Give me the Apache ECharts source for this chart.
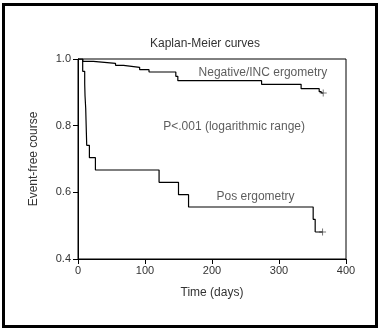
<!DOCTYPE html>
<html>
<head>
<meta charset="utf-8">
<script src="https://cdn.jsdelivr.net/npm/echarts@6/dist/echarts.min.js"></script>
<style>
    html, body { margin: 0; padding: 0; background: #fff; }
    #chart { width: 382px; height: 332px; }
</style>
</head>
<body>
<div id="chart"></div>
<script>
// Kaplan-Meier curves
const negTimes = [0, 7, 23, 56, 68, 92, 106, 146, 149, 274, 333, 360, 363];
const negSurv  = [1.0, 0.993, 0.987, 0.981, 0.975, 0.968, 0.961, 0.948, 0.935, 0.924, 0.911, 0.902, 0.898];
const negCensor = [[366, 0.898]];

const posTimes = [0, 7, 10, 10.5, 11.5, 12, 12.5, 13, 17, 26, 121, 150, 165, 351, 354];
const posSurv  = [1.0, 0.963, 0.926, 0.889, 0.852, 0.815, 0.778, 0.741, 0.704, 0.667, 0.630, 0.593, 0.556, 0.519, 0.481];
const posCensor = [[365, 0.481]];

const xTicks = [0, 100, 200, 300, 400];
const yTicks = [0.4, 0.6, 0.8, 1.0];

const notes = [
    { name: 'Negative/INC ergometry', value: [276, 0.958] },
    { name: 'P<.001 (logarithmic range)', value: [233, 0.796] },
    { name: 'Pos ergometry', value: [265, 0.586] }
];

const font = "'Liberation Sans Narrow', 'Liberation Sans', Arial, sans-serif";

function pairs(xs, ys) {
    return xs.map((x, i) => [x, ys[i]]);
}

const chart = echarts.init(document.getElementById('chart'));
chart.setOption({
    animation: false,
    backgroundColor: '#fff',
    title: {
        text: 'Kaplan-Meier curves',
        left: 200,
        top: 33,
        textAlign: 'center',
        textStyle: { fontFamily: font, fontSize: 12, fontWeight: 'normal', color: '#333' }
    },
    graphic: [{
        type: 'rect',
        shape: { x: 3.5, y: 4.5, width: 373, height: 322 },
        style: { fill: 'none', stroke: '#000', lineWidth: 3 },
        silent: true
    }],
    grid: {
        left: 78,
        right: 36,
        top: 59,
        bottom: 73,
        show: true,
        borderColor: '#000',
        borderWidth: 1
    },
    xAxis: {
        type: 'value',
        min: xTicks[0],
        max: xTicks[xTicks.length - 1],
        interval: 100,
        name: 'Time (days)',
        nameLocation: 'middle',
        nameGap: 28,
        nameTextStyle: { fontFamily: font, fontSize: 12, color: '#333' },
        splitLine: { show: false },
        axisLine: { lineStyle: { color: '#000', width: 1 } },
        axisTick: { show: true, length: 5, lineStyle: { color: '#000' } },
        axisLabel: { fontFamily: font, fontSize: 11, color: '#333', margin: 6 }
    },
    yAxis: {
        type: 'value',
        min: yTicks[0],
        max: yTicks[yTicks.length - 1],
        interval: 0.2,
        name: 'Event-free course',
        nameLocation: 'middle',
        nameGap: 38,
        nameTextStyle: { fontFamily: font, fontSize: 12, color: '#333' },
        splitLine: { show: false },
        axisLine: { show: true, lineStyle: { color: '#000', width: 1 } },
        axisTick: { show: true, length: 5, lineStyle: { color: '#000' } },
        axisLabel: {
            fontFamily: font, fontSize: 11, color: '#333', margin: 7,
            formatter: v => v.toFixed(1)
        }
    },
    series: [
        {
            name: 'Negative/INC ergometry',
            type: 'line',
            step: 'end',
            symbol: 'none',
            lineStyle: { color: '#000', width: 1.2 },
            data: pairs(negTimes, negSurv)
        },
        {
            name: 'Pos ergometry',
            type: 'line',
            step: 'end',
            symbol: 'none',
            lineStyle: { color: '#000', width: 1.2 },
            data: pairs(posTimes, posSurv)
        },
        {
            // censored tail lines
            type: 'line',
            symbol: 'none',
            lineStyle: { color: '#000', width: 1.2 },
            data: [[negTimes[negTimes.length - 1], negSurv[negSurv.length - 1]], negCensor[0]]
        },
        {
            type: 'line',
            symbol: 'none',
            lineStyle: { color: '#000', width: 1.2 },
            data: [[posTimes[posTimes.length - 1], posSurv[posSurv.length - 1]], posCensor[0]]
        },
        {
            name: 'censored',
            type: 'scatter',
            symbol: 'path://M3,0H4V7H3Z M0,3H7V4H0Z',
            symbolSize: 7,
            itemStyle: { color: '#555' },
            data: negCensor.concat(posCensor)
        },
        {
            name: 'notes',
            type: 'scatter',
            symbolSize: 0,
            label: {
                show: true,
                position: 'inside',
                formatter: '{b}',
                fontFamily: font,
                fontSize: 12,
                color: '#333'
            },
            data: notes
        }
    ]
});
</script>
</body>
</html>
